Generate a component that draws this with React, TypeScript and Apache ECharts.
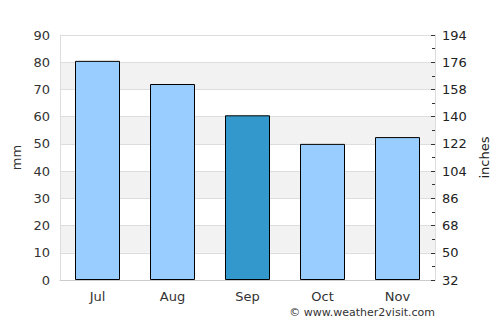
import React, { useEffect, useRef } from "react";
import * as echarts from "echarts";

const months = ["Jul", "Aug", "Sep", "Oct", "Nov"];
const rainfallMm = [80.5, 72, 60.5, 50, 52.5];
const highlightIndex = 2;
const rightTicks = [32, 50, 68, 86, 104, 122, 140, 158, 176, 194];

export default function App() {
  const ref = useRef<HTMLDivElement>(null);
  useEffect(() => {
    const chart = echarts.init(ref.current!, null, { renderer: "svg" });
    const font = "DejaVu Sans";
    const rMin = rightTicks[0];
    const rMax = rightTicks[rightTicks.length - 1];
    const rStep = rightTicks[1] - rightTicks[0];
    chart.setOption({
      animation: false,
      textStyle: { fontFamily: font },
      grid: { left: 60, right: 65, top: 35, bottom: 45 },
      xAxis: {
        type: "category",
        data: months,
        axisLine: { show: true, lineStyle: { color: "#cccccc" } },
        axisTick: { show: false },
        axisLabel: { color: "#333", fontSize: 13, margin: 10, fontFamily: font },
      },
      yAxis: [
        {
          type: "value",
          min: 0,
          max: 90,
          interval: 10,
          name: "mm",
          nameLocation: "middle",
          nameGap: 36,
          nameTextStyle: { color: "#333", fontSize: 13, fontFamily: font },
          axisLine: { show: true, lineStyle: { color: "#dddddd" } },
          axisTick: { show: false },
          axisLabel: { color: "#333", fontSize: 13, margin: 10, fontFamily: font },
          splitLine: { show: true, lineStyle: { color: "#dddddd" } },
          splitArea: { show: true, areaStyle: { color: ["#ffffff", "#f2f2f2"] } },
        },
        {
          type: "value",
          min: rMin,
          max: rMax,
          interval: rStep,
          position: "right",
          name: "inches",
          nameLocation: "middle",
          nameGap: 40,
          nameTextStyle: { color: "#222", fontSize: 13, fontFamily: font },
          axisLine: { show: true, lineStyle: { color: "#dddddd" } },
          axisTick: { show: true, inside: true, length: 4, lineStyle: { color: "#333" } },
          axisLabel: { color: "#222", fontSize: 13, margin: 7, fontFamily: font },
          splitLine: { show: false },
        },
        {
          type: "value",
          min: rMin,
          max: rMax,
          interval: rStep / 2,
          position: "right",
          axisLine: { show: false },
          axisTick: { show: true, inside: true, length: 3, lineStyle: { color: "#333" } },
          axisLabel: { show: false },
          splitLine: { show: false },
        },
      ],
      series: [
        {
          type: "bar",
          yAxisIndex: 0,
          barWidth: "60%",
          data: rainfallMm.map((v, i) => ({
            value: v,
            itemStyle: { color: i === highlightIndex ? "#3399cc" : "#99ccff" },
          })),
          itemStyle: { borderColor: "#000", borderWidth: 1 },
        },
      ],
      graphic: [
        {
          type: "text",
          right: 65,
          top: 307,
          style: { text: "© www.weather2visit.com", fill: "#333", fontSize: 11, fontFamily: font },
        },
      ],
    });
    return () => chart.dispose();
  }, []);
  return <div ref={ref} style={{ width: 500, height: 325, margin: -8 }} />;
}
